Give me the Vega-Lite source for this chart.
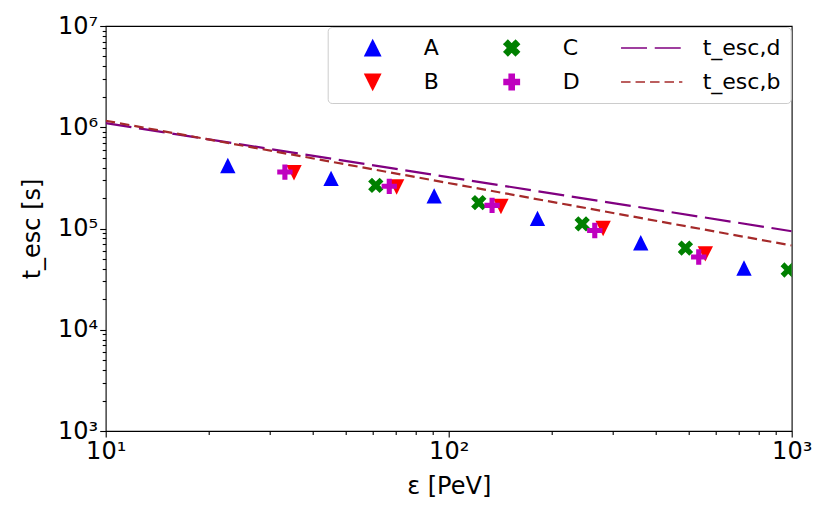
{
  "$schema": "https://vega.github.io/schema/vega-lite/v6.json",
  "width": 686,
  "height": 405,
  "autosize": {"type": "none"},
  "padding": {"left": 105.7, "top": 26, "right": 38.3, "bottom": 88},
  "background": "white",
  "config": {
    "view": {"stroke": "black", "strokeWidth": 1.1},
    "axis": {
      "labelFont": "DejaVu Sans", "labelFontSize": 24, "labelColor": "black",
      "tickColor": "black", "tickWidth": 1.1, "domain": false, "grid": false,
      "titleFont": "DejaVu Sans", "titleFontSize": 24, "titleFontWeight": "normal", "titleColor": "black",
      "labelFlush": false, "labelOverlap": false
    }
  },
  "resolve": {"axis": {"x": "independent", "y": "independent"}},
  "layer": [
    {
      "data": {"values": [
        {"series": "A", "e": 22.7, "t": 419000},
        {"series": "A", "e": 45.4, "t": 313000},
        {"series": "A", "e": 90.7, "t": 210000},
        {"series": "A", "e": 181.5, "t": 126000},
        {"series": "A", "e": 363, "t": 72300},
        {"series": "A", "e": 726, "t": 40700},
        {"series": "B", "e": 35.4, "t": 355000},
        {"series": "B", "e": 70.5, "t": 257000},
        {"series": "B", "e": 142, "t": 165000},
        {"series": "B", "e": 282, "t": 100000},
        {"series": "B", "e": 560, "t": 56200},
        {"series": "C", "e": 61.3, "t": 267000},
        {"series": "C", "e": 122.4, "t": 180000},
        {"series": "C", "e": 245, "t": 111000},
        {"series": "C", "e": 490, "t": 64100},
        {"series": "C", "e": 977, "t": 38900},
        {"series": "D", "e": 33.3, "t": 361000},
        {"series": "D", "e": 67.1, "t": 261000},
        {"series": "D", "e": 133.8, "t": 169000},
        {"series": "D", "e": 266.6, "t": 95500},
        {"series": "D", "e": 535.7, "t": 52300}
      ]},
      "mark": {"type": "point", "filled": true, "opacity": 1, "size": 235, "clip": true, "strokeWidth": 0},
      "encoding": {
        "x": {"field": "e", "type": "quantitative",
          "scale": {"type": "log", "domain": [10, 1000], "nice": false},
          "axis": {"orient": "bottom", "values": [10, 100, 1000], "tickSize": 6, "labelPadding": 2,
            "labelExpr": "'10' + ['⁰','¹','²','³','⁴','⁵','⁶','⁷'][round(log(datum.value)/LN10)]",
            "title": "ε [PeV]", "titlePadding": 11}},
        "y": {"field": "t", "type": "quantitative",
          "scale": {"type": "log", "domain": [1000, 10000000], "nice": false},
          "axis": {"orient": "left", "values": [1000, 10000, 100000, 1000000, 10000000], "tickSize": 6, "labelPadding": 2,
            "labelExpr": "'10' + ['⁰','¹','²','³','⁴','⁵','⁶','⁷'][round(log(datum.value)/LN10)]",
            "title": "t_esc [s]", "titlePadding": 13}},
        "color": {"field": "series", "type": "nominal",
          "scale": {"domain": ["A", "B", "C", "D", "t_esc,d", "t_esc,b"],
                    "range": ["#0000ff", "#ff0000", "#008000", "#bf00bf", "#800080", "#a52a2a"]},
          "legend": {
            "title": null, "orient": "top-right", "offset": 1, "columns": 3, "gridAlign": "each",
            "symbolSize": 235, "symbolOffset": 24, "labelOffset": 40,
            "labelFont": "DejaVu Sans", "labelFontSize": 22, "labelColor": "black",
            "padding": 10, "rowPadding": 12, "columnPadding": 37,
            "fillColor": "rgba(255,255,255,0.8)", "strokeColor": "#cccccc", "cornerRadius": 4,
            "encode": {
              "symbols": {"update": {
                "fill": {"scale": "color", "field": "value"},
                "stroke": {"scale": "color", "field": "value"},
                "shape": {"scale": "shape", "field": "value"},
                "strokeDash": {"scale": "strokeDash", "field": "value"},
                "strokeWidth": {"signal": "datum.value == 't_esc,d' || datum.value == 't_esc,b' ? 2.2 : 0"},
                "opacity": {"value": 1}
              }}
            }
          }},
        "shape": {"field": "series", "type": "nominal",
          "scale": {"domain": ["A", "B", "C", "D", "t_esc,d", "t_esc,b"],
                    "range": ["M0,-1L1,1L-1,1Z",
                              "M0,1L1,-1L-1,-1Z",
                              "M-0.5,-1L0,-0.5L0.5,-1L1,-0.5L0.5,0L1,0.5L0.5,1L0,0.5L-0.5,1L-1,0.5L-0.5,0L-1,-0.5Z",
                              "M-0.333,-1L0.333,-1L0.333,-0.333L1,-0.333L1,0.333L0.333,0.333L0.333,1L-0.333,1L-0.333,0.333L-1,0.333L-1,-0.333L-0.333,-0.333Z",
                              "M-4,0L4,0",
                              "M-4,0L4,0"]},
          "legend": null}
      }
    },
    {
      "data": {"values": [
        {"series": "t_esc,d", "e": 10, "t": 1100000},
        {"series": "t_esc,d", "e": 1000, "t": 94000},
        {"series": "t_esc,b", "e": 10, "t": 1160000},
        {"series": "t_esc,b", "e": 1000, "t": 68000}
      ]},
      "mark": {"type": "line", "strokeWidth": 2.2, "clip": true},
      "encoding": {
        "x": {"field": "e", "type": "quantitative",
          "scale": {"type": "log", "domain": [10, 1000], "nice": false},
          "axis": {"orient": "bottom", "values": [20, 30, 40, 50, 60, 70, 80, 90, 200, 300, 400, 500, 600, 700, 800, 900],
            "tickSize": 3.5, "labels": false, "title": null}},
        "y": {"field": "t", "type": "quantitative",
          "scale": {"type": "log", "domain": [1000, 10000000], "nice": false},
          "axis": {"orient": "left", "values": [2000, 3000, 4000, 5000, 6000, 7000, 8000, 9000, 20000, 30000, 40000, 50000, 60000, 70000, 80000, 90000, 200000, 300000, 400000, 500000, 600000, 700000, 800000, 900000, 2000000, 3000000, 4000000, 5000000, 6000000, 7000000, 8000000, 9000000],
            "tickSize": 3.5, "labels": false, "title": null}},
        "color": {"field": "series", "type": "nominal",
          "scale": {"domain": ["A", "B", "C", "D", "t_esc,d", "t_esc,b"],
                    "range": ["#0000ff", "#ff0000", "#008000", "#bf00bf", "#800080", "#a52a2a"]}},
        "strokeDash": {"field": "series", "type": "nominal",
          "scale": {"domain": ["A", "B", "C", "D", "t_esc,d", "t_esc,b"],
                    "range": [[1, 0], [1, 0], [1, 0], [1, 0], [26, 7.7], [9.5, 5]]},
          "legend": null}
      }
    }
  ]
}
